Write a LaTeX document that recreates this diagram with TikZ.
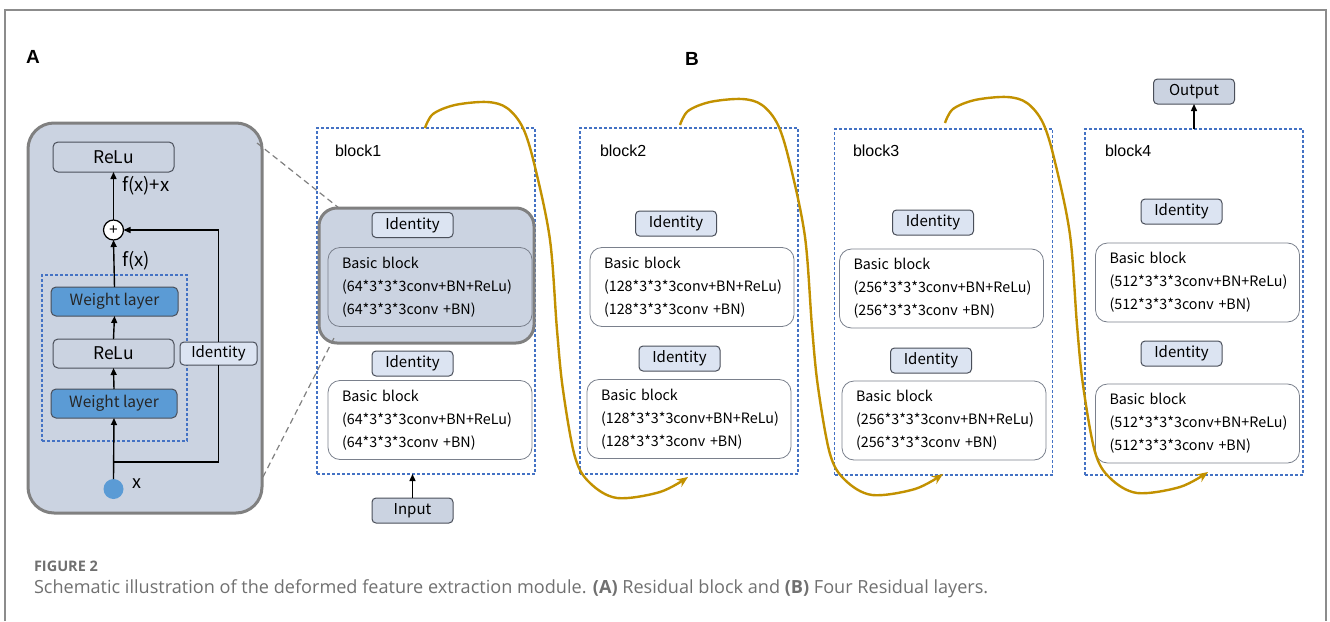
\documentclass[tikz,border=0pt]{standalone}
\usepackage{fontspec}
\setmainfont{Liberation Sans}
\newfontfamily\dfont{Noto Sans CJK SC}
\newfontfamily\capfont{Open Sans}
\usetikzlibrary{arrows.meta}
\definecolor{panelfill}{HTML}{CBD3E1}
\definecolor{panelgray}{HTML}{808080}
\definecolor{idfill}{HTML}{DCE4F2}
\definecolor{boxedge}{HTML}{4A4F5A}
\definecolor{wblue}{HTML}{5B9BD5}
\definecolor{dashblue}{HTML}{4472C4}
\definecolor{gold}{HTML}{C29100}
\definecolor{bbedge}{HTML}{7A808C}
\definecolor{framegray}{HTML}{8C8C8C}
\definecolor{capgray}{HTML}{707070}
\begin{document}
\begin{tikzpicture}[x=1pt,y=-1pt,
  every node/.style={inner sep=0pt, outer sep=0pt},
  panel/.style={draw=panelgray, fill=panelfill, line width=3pt, rounded corners=26pt},
  hlbox/.style={draw=panelgray, fill=panelfill, line width=3pt, rounded corners=18pt},
  lbox/.style={draw=boxedge, line width=1pt, rounded corners=5pt, font=\dfont\fontsize{17.5}{20}\selectfont},
  wbox/.style={lbox, fill=wblue, text=black!85, font=\dfont\fontsize{15.5}{18}\selectfont},
  idbox/.style={draw=boxedge, fill=idfill, line width=1pt, rounded corners=4pt,
    minimum width=81pt, minimum height=25pt, font=\dfont\fontsize{15}{18}\selectfont},
  bbox/.style={draw=bbedge, line width=0.8pt, rounded corners=12pt, minimum width=204pt,
    minimum height=79pt, text width=176pt, align=left,
    font=\dfont\fontsize{14.3}{23}\selectfont},
  blockframe/.style={draw=dashblue, line width=1.1pt, dash pattern=on 3pt off 2pt,
    minimum width=218pt, minimum height=346pt},
  blocklabel/.style={anchor=west, font=\fontsize{16}{19}\selectfont},
  arr/.style={line width=1.4pt, -{Triangle[length=7pt,width=6pt]}},
  plain/.style={line width=1.4pt},
  zoomline/.style={draw=panelgray, line width=1.2pt, dash pattern=on 6pt off 4pt},
  goldarc/.style={draw=gold, line width=2.4pt, -{Stealth[length=11pt,width=9pt]}},
  letter/.style={font=\bfseries\fontsize{19}{22}\selectfont}
]
\useasboundingbox (0,0) rectangle (1330,621);

% outer frame, open at the bottom
\draw[framegray, line width=1.5pt] (5,621) -- (5,10) -- (1326,10) -- (1326,621);

% panel letters
\node[letter] (labA) at (33,57) {A};
\node[letter] (labB) at (692,59) {B};

% ---------- panel A: residual block ----------
\node[panel, minimum width=234pt, minimum height=390pt] (panelA) at (145,318) {};
\node[draw=dashblue, line width=1.1pt, dash pattern=on 3pt off 2pt,
      minimum width=145pt, minimum height=166pt] (inner) at (114.5,358) {};
\node[lbox, minimum width=121pt, minimum height=30pt] (r2) at (113.5,157) {ReLu};
\node[wbox, minimum width=127pt, minimum height=29pt] (w2) at (114.5,301.5) {Weight layer};
\node[lbox, minimum width=121pt, minimum height=29pt] (r1) at (113.5,353.5) {ReLu};
\node[wbox, minimum width=126pt, minimum height=29pt] (w1) at (114,403.5) {Weight layer};
\node[circle, draw=black, fill=white, line width=1.2pt, minimum size=20pt] (plus) at (113.5,230) {};
\node[font=\fontsize{15}{15}\selectfont] (plussign) at (plus.center) {+};
\node[circle, fill=wblue, minimum size=20pt] (xdot) at (113.5,489) {};
\node[font=\dfont\fontsize{18}{20}\selectfont] (xlab) at (137,484) {x};
\node[idbox, minimum width=77pt, minimum height=23pt] (idA) at (218.5,353.5) {Identity};
\node[font=\dfont\fontsize{18.5}{20}\selectfont, anchor=west] (fxx) at (122,186) {f(x)+x};
\node[font=\dfont\fontsize{18.5}{20}\selectfont, anchor=west] (fx) at (122,261) {f(x)};

\coordinate (split) at (113.5,462);
\coordinate (cornerB) at (218.5,462);
\coordinate (cornerT) at (218.5,230);

\draw[arr] (xdot.north) -- (w1.south);
\draw[arr] (w1.north) -- (r1.south);
\draw[arr] (r1.north) -- (w2.south);
\draw[arr] (w2.north) -- (plus.south);
\draw[arr] (plus.north) -- (r2.south);
\draw[plain] (split) -- (cornerB) -- (idA.south);
\draw[arr] (idA.north) -- (cornerT) -- (plus.east);

% ---------- panel B: four residual layers ----------
% block 1
\node[blockframe] (b1) at (426,301) {};
\node[blocklabel] (b1lab) at (335,151) {block1};
\node[hlbox, minimum width=215pt, minimum height=135pt] (hl) at (426.5,275.5) {};
\node[idbox] (id11) at (412.5,225) {Identity};
\node[bbox] (bb11) at (430,287) {Basic block\\(64*3*3*3conv+BN+ReLu)\\(64*3*3*3conv +BN)};
\node[idbox] (id12) at (412.5,363.5) {Identity};
\node[bbox] (bb12) at (430,420) {Basic block\\(64*3*3*3conv+BN+ReLu)\\(64*3*3*3conv +BN)};
\node[idbox, fill=panelfill] (inp) at (412.5,510.5) {Input};
\draw[arr] (inp.north) -- (b1.south -| inp.north);

% block 2
\node[blockframe] (b2) at (689,301) {};
\node[blocklabel] (b2lab) at (600,151) {block2};
\node[idbox] (id21) at (676,223.5) {Identity};
\node[bbox] (bb21) at (692,287) {Basic block\\(128*3*3*3conv+BN+ReLu)\\(128*3*3*3conv +BN)};
\node[idbox] (id22) at (679.5,358.5) {Identity};
\node[bbox] (bb22) at (689,419) {Basic block\\(128*3*3*3conv+BN+ReLu)\\(128*3*3*3conv +BN)};

% block 3
\node[blockframe] (b3) at (943.5,302) {};
\node[blocklabel] (b3lab) at (853,151) {block3};
\node[idbox] (id31) at (933,222.5) {Identity};
\node[bbox] (bb31) at (941.5,288.5) {Basic block\\(256*3*3*3conv+BN+ReLu)\\(256*3*3*3conv +BN)};
\node[idbox] (id32) at (931,360.5) {Identity};
\node[bbox] (bb32) at (944,420.5) {Basic block\\(256*3*3*3conv+BN+ReLu)\\(256*3*3*3conv +BN)};

% block 4
\node[blockframe] (b4) at (1194,302) {};
\node[blocklabel] (b4lab) at (1105,151) {block4};
\node[idbox] (id41) at (1181.5,211.5) {Identity};
\node[bbox] (bb41) at (1197.5,282.5) {Basic block\\(512*3*3*3conv+BN+ReLu)\\(512*3*3*3conv +BN)};
\node[idbox] (id42) at (1181.5,353.5) {Identity};
\node[bbox] (bb42) at (1197.5,423.5) {Basic block\\(512*3*3*3conv+BN+ReLu)\\(512*3*3*3conv +BN)};
\node[idbox, fill=panelfill] (outp) at (1194,91.5) {Output};
\draw[arr] (b4.north) -- (outp.south);

% zoom lines from panel A to the highlighted basic block
\coordinate (zA1) at (257,143);
\coordinate (zA2) at (263,477);
\coordinate (zB1) at (339,208);
\coordinate (zB2) at (335,336);
\draw[zoomline] (zA1) -- (zB1);
\draw[zoomline] (zA2) -- (zB2);

% golden arcs linking each layer to the next
\foreach \sx/\sy [count=\k] in {425/128, 680/125, 945/123} {
  \begin{scope}[shift={(\sx,\sy)}]
    \coordinate (arc\k s) at (0,0);
    \draw[goldarc] plot[smooth, tension=0.55] coordinates {
      (0,0) (8,-14) (30,-23) (62,-26) (82,-20) (98,0) (110,39) (125,112)
      (132,202) (138,262) (150,329) (165,355) (192,370) (235,364) (263,349)};
  \end{scope}
}

% caption
\node[anchor=west, font=\capfont\bfseries\fontsize{14.5}{17}\selectfont, text=capgray] (figno) at (34,566) {FIGURE 2};
\node[anchor=west, font=\capfont\fontsize{18.1}{21}\selectfont, text=capgray] (caption) at (34,589)
  {Schematic illustration of the deformed feature extraction module. \textbf{(A)} Residual block and \textbf{(B)} Four Residual layers.};
\end{tikzpicture}
\end{document}
